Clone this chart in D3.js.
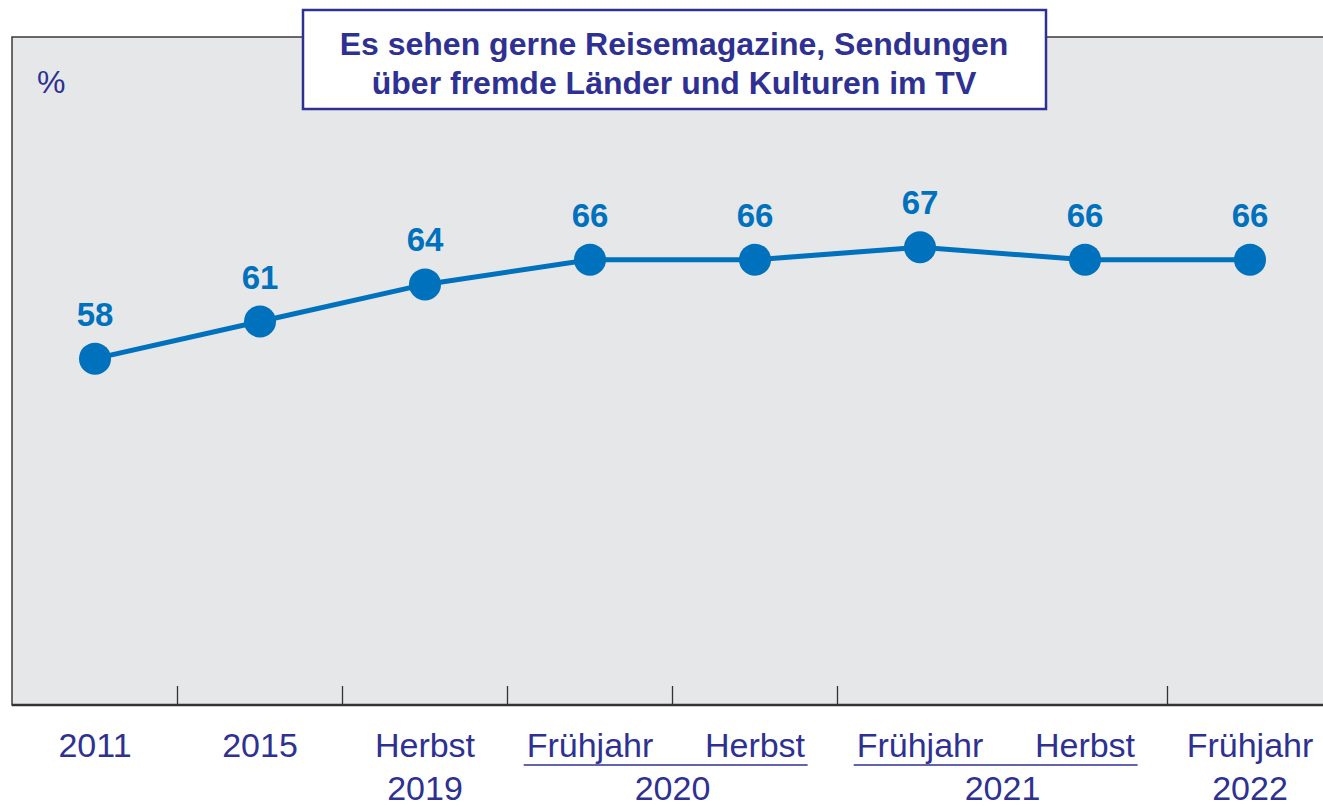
<!DOCTYPE html>
<html>
<head>
<meta charset="utf-8">
<script src="https://cdn.jsdelivr.net/npm/d3@7"></script>
<style>
  body { margin: 0; background: #fff; }
  svg { display: block; }
</style>
</head>
<body>
<div class="chart"></div>
<script>
// survey: "Es sehen gerne Reisemagazine..." share in %
const periods = ["2011", "2015", "Herbst 2019", "Frühjahr 2020", "Herbst 2020", "Frühjahr 2021", "Herbst 2021", "Frühjahr 2022"];
const seasonLabels = ["2011", "2015", "Herbst", "Frühjahr", "Herbst", "Frühjahr", "Herbst", "Frühjahr"];
const values = [58, 61, 64, 66, 66, 67, 66, 66];
const groupYears = ["2019", "2020", "2021", "2022"];
const groupFirst = [2, 3, 5, 7];
const groupLast = [2, 4, 6, 7];
const tickAfter = [0, 1, 2, 3, 4, 6];   // original has no divider inside 2021
const titleLines = ["Es sehen gerne Reisemagazine, Sendungen", "über fremde Länder und Kulturen im TV"];

const width = 1323, height = 806;
const navy = "#2e3192", blue = "#0071bc";
const plot = {left: 12, top: 37, bottom: 705};

const svg = d3.select(".chart").append("svg")
    .attr("width", width)
    .attr("height", height);

const x = d3.scalePoint()
    .domain(periods)
    .range([95, 1250]);
const step = x.step();

const y = d3.scaleLinear()
    .domain([30, 84])
    .range([plot.bottom, plot.top]);

// grey panel
svg.append("rect")
    .attr("x", plot.left)
    .attr("y", plot.top)
    .attr("width", width - plot.left + 5)
    .attr("height", plot.bottom - plot.top)
    .attr("fill", "#e6e7e9")
    .attr("stroke", "#3a3a3a")
    .attr("stroke-width", 1.5);

// bottom axis
const xAxis = d3.axisBottom(x).tickSize(0).tickFormat("");
const axisG = svg.append("g")
    .attr("transform", `translate(0,${plot.bottom})`)
    .call(xAxis);
axisG.select(".domain").remove();
axisG.append("line")
    .attr("x1", plot.left).attr("x2", width)
    .attr("stroke", "#333").attr("stroke-width", 2.5);
axisG.selectAll(".divider")
    .data(tickAfter)
    .join("line")
    .attr("class", "divider")
    .attr("x1", d => x(periods[d]) + step / 2)
    .attr("x2", d => x(periods[d]) + step / 2)
    .attr("y1", -19).attr("y2", 0)
    .attr("stroke", "#333").attr("stroke-width", 1.3);

const labelFont = "'Liberation Sans', Arial, sans-serif";

const season = svg.append("g")
    .selectAll("text")
    .data(periods)
    .join("text")
    .attr("x", d => x(d))
    .attr("y", 757)
    .attr("text-anchor", "middle")
    .attr("font-family", labelFont)
    .attr("font-size", 34)
    .attr("fill", navy)
    .text((d, i) => seasonLabels[i]);

const groups = svg.append("g")
    .selectAll("g")
    .data(groupYears)
    .join("g");

groups.append("text")
    .attr("x", (d, i) => (x(periods[groupFirst[i]]) + x(periods[groupLast[i]])) / 2)
    .attr("y", 800)
    .attr("text-anchor", "middle")
    .attr("font-family", labelFont)
    .attr("font-size", 34)
    .attr("fill", navy)
    .text(d => d);

// underline spanning the season labels of a year
const seasonNodes = season.nodes();
groups.filter((d, i) => groupFirst[i] !== groupLast[i])
    .append("line")
    .each(function(d) {
      const i = groupYears.indexOf(d);
      const a = seasonNodes[groupFirst[i]].getBBox();
      const b = seasonNodes[groupLast[i]].getBBox();
      d3.select(this)
        .attr("x1", a.x - 3).attr("x2", b.x + b.width + 2)
        .attr("y1", 765).attr("y2", 765);
    })
    .attr("stroke", navy)
    .attr("stroke-width", 1.5);

// unit
svg.append("text")
    .attr("x", 37)
    .attr("y", 93)
    .attr("font-family", labelFont)
    .attr("font-size", 32)
    .attr("fill", navy)
    .text("%");

// line + dots
const line = d3.line()
    .x((d, i) => x(periods[i]))
    .y(d => y(d));

svg.append("path")
    .datum(values)
    .attr("d", line)
    .attr("fill", "none")
    .attr("stroke", blue)
    .attr("stroke-width", 5);

svg.append("g")
    .selectAll("circle")
    .data(values)
    .join("circle")
    .attr("cx", (d, i) => x(periods[i]))
    .attr("cy", d => y(d))
    .attr("r", 16)
    .attr("fill", blue);

svg.append("g")
    .selectAll("text")
    .data(values)
    .join("text")
    .attr("x", (d, i) => x(periods[i]))
    .attr("y", d => y(d) - 33)
    .attr("text-anchor", "middle")
    .attr("font-family", labelFont)
    .attr("font-weight", "bold")
    .attr("font-size", 33)
    .attr("fill", blue)
    .text(d => d);

// title box
svg.append("rect")
    .attr("x", 303).attr("y", 10)
    .attr("width", 743).attr("height", 99)
    .attr("fill", "#fff")
    .attr("stroke", navy)
    .attr("stroke-width", 2.5);

svg.append("g")
    .selectAll("text")
    .data(titleLines)
    .join("text")
    .attr("x", 674)
    .attr("y", (d, i) => 55 + i * 39)
    .attr("text-anchor", "middle")
    .attr("font-family", labelFont)
    .attr("font-weight", "bold")
    .attr("font-size", 32)
    .attr("fill", navy)
    .text(d => d);
</script>
</body>
</html>
